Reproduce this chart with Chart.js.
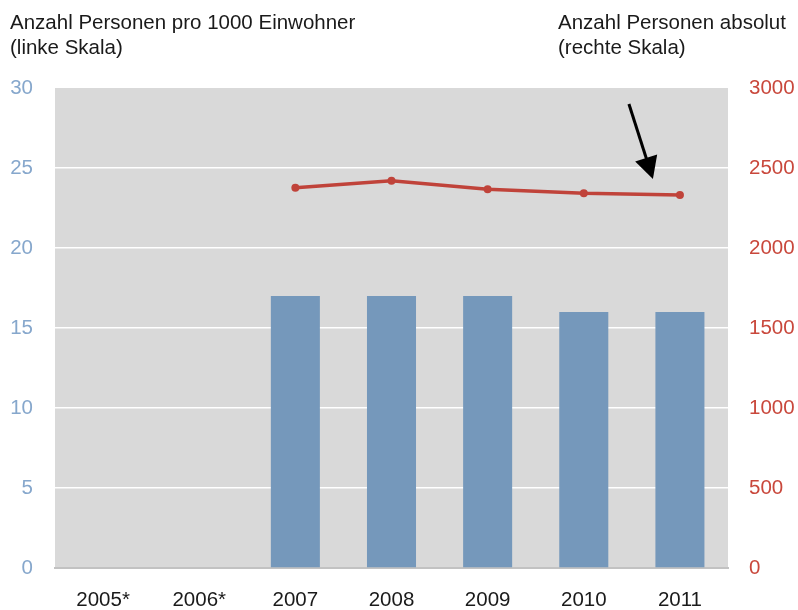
<!DOCTYPE html>
<html>
<head>
<meta charset="utf-8">
<script src="https://cdn.jsdelivr.net/npm/chart.js@4"></script>
<style>
  html, body { margin: 0; padding: 0; background: #fff; }
  #wrap { position: relative; width: 798px; height: 610px; }
  .ttl { position: absolute; font: 20.5px "Liberation Sans", Arial, sans-serif; color: #1a1a1a; line-height: 25px; }
</style>
</head>
<body>
<div id="wrap">
  <canvas id="c" width="798" height="610"></canvas>
  <div class="ttl" style="left:10px;top:9px">Anzahl Personen pro 1000 Einwohner<br>(linke Skala)</div>
  <div class="ttl" style="left:558px;top:9px">Anzahl Personen absolut<br>(rechte Skala)</div>
</div>
<script>
/* ====== 数据 ====== */
const years = ["2005*", "2006*", "2007", "2008", "2009", "2010", "2011"];
const perThousand = [null, null, 17, 17, 17, 16, 16];      // 左轴 柱
const absolute = [null, null, 2377, 2421, 2367, 2342, 2331]; // 右轴 折线

const FONT = { family: '"Liberation Sans", Arial, sans-serif', size: 20.5 };

/* 灰色绘图区背景 */
const plotBg = {
  id: "plotBg",
  beforeDraw(chart) {
    const { ctx, chartArea: a } = chart;
    ctx.save();
    ctx.fillStyle = "#d9d9d9";
    ctx.fillRect(a.left, a.top, a.right - a.left, a.bottom - a.top);
    ctx.restore();
  },
};

/* 指向 2011 的箭头 */
const arrow = {
  id: "arrow",
  afterDatasetsDraw(chart) {
    const { ctx, scales } = chart;
    const cx = scales.x.getPixelForValue(6);
    const x0 = cx - 51, y0 = scales.y1.getPixelForValue(2900);
    const x1 = cx - 27, y1 = scales.y1.getPixelForValue(2431);
    const ang = Math.atan2(y1 - y0, x1 - x0);
    const len = 25, w = 0.48;
    ctx.save();
    ctx.strokeStyle = "#000";
    ctx.fillStyle = "#000";
    ctx.lineWidth = 3;
    ctx.beginPath();
    ctx.moveTo(x0, y0);
    ctx.lineTo(x1 - Math.cos(ang) * len * 0.8, y1 - Math.sin(ang) * len * 0.8);
    ctx.stroke();
    ctx.beginPath();
    ctx.moveTo(x1, y1);
    ctx.lineTo(x1 - len * Math.cos(ang - w), y1 - len * Math.sin(ang - w));
    ctx.lineTo(x1 - len * Math.cos(ang + w), y1 - len * Math.sin(ang + w));
    ctx.closePath();
    ctx.fill();
    ctx.restore();
  },
};

new Chart(document.getElementById("c"), {
  data: {
    labels: years,
    datasets: [
      {
        type: "line",
        data: absolute,
        yAxisID: "y1",
        borderColor: "#c0433a",
        backgroundColor: "#c0433a",
        borderWidth: 3.5,
        pointRadius: 4,
        pointBorderWidth: 0,
        tension: 0,
        order: 0,
      },
      {
        type: "bar",
        data: perThousand,
        yAxisID: "y",
        backgroundColor: "#7598bb",
        barPercentage: 0.51,
        categoryPercentage: 1,
        order: 1,
      },
    ],
  },
  options: {
    responsive: false,
    animation: false,
    layout: { padding: { top: 88, left: 0, right: 0, bottom: 0 } },
    plugins: { legend: { display: false }, tooltip: { enabled: false } },
    scales: {
      x: {
        grid: { display: false, drawTicks: false },
        border: { color: "#c2c2c2", width: 2 },
        ticks: { color: "#1a1a1a", font: FONT, padding: 20, maxRotation: 0 },
        afterFit: (s) => { s.height = 42; },
      },
      y: {
        position: "left",
        min: 0,
        max: 30,
        ticks: { stepSize: 5, color: "#86a7cc", font: FONT, padding: 22 },
        grid: {
          drawTicks: false,
          lineWidth: 1.5,
          color: (c) => (c.tick.value === 0 || c.tick.value === 30 ? "rgba(0,0,0,0)" : "#ffffff"),
        },
        border: { display: false },
        afterFit: (s) => { s.width = 55; },
      },
      y1: {
        position: "right",
        min: 0,
        max: 3000,
        ticks: { stepSize: 500, color: "#c9483c", font: FONT, padding: 21, callback: (v) => String(v) },
        grid: { display: false, drawTicks: false },
        border: { display: false },
        afterFit: (s) => { s.width = 70; },
      },
    },
  },
  plugins: [plotBg, arrow],
});
</script>
</body>
</html>
